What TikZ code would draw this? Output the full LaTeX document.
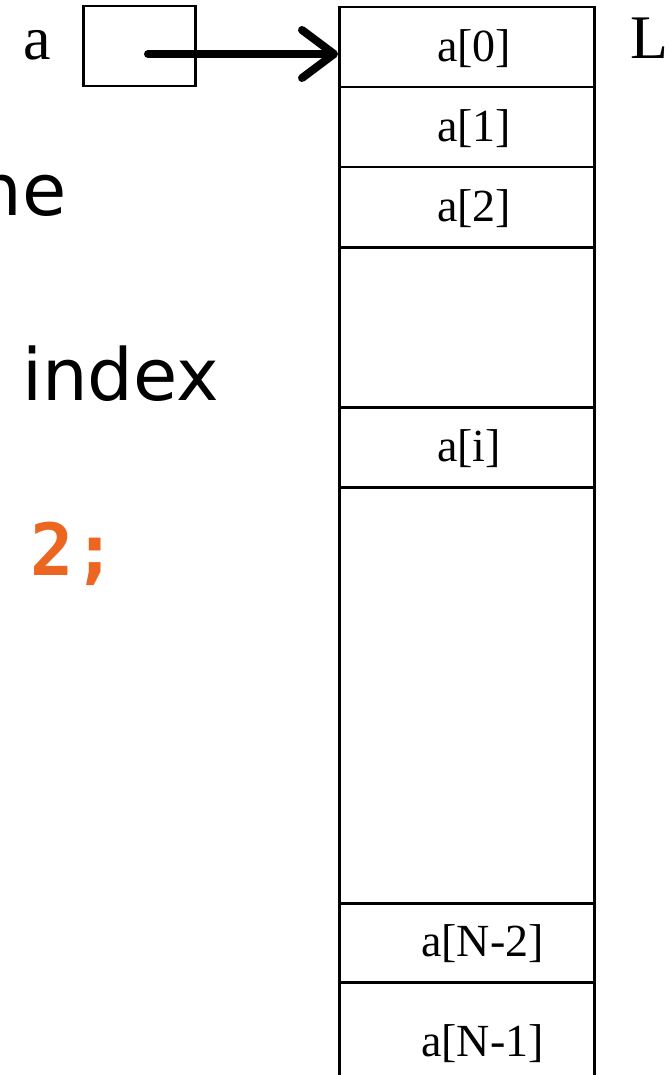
\documentclass[tikz,border=0pt]{standalone}
\usepackage{fontspec}
\setmainfont{Liberation Serif}
\newfontfamily\slidesans{DejaVu Sans}
\newfontfamily\slidemono{DejaVu Sans Mono}
\usetikzlibrary{arrows.meta}
\definecolor{codeorange}{RGB}{236,102,34}
\begin{document}
\begin{tikzpicture}[x=1pt,y=-1pt,
  cellbox/.style={draw,line width=2.5pt,minimum width=255pt,inner sep=0pt,anchor=north west},
  celltxt/.style={font=\fontsize{46}{50}\selectfont,inner sep=0pt,anchor=base west},
  bigserif/.style={font=\fontsize{62}{66}\selectfont,inner sep=0pt,anchor=base west},
  slidetxt/.style={font=\slidesans\fontsize{72}{80}\selectfont,inner sep=0pt},
  codetxt/.style={font=\slidemono\bfseries\fontsize{72}{80}\selectfont,text=codeorange,inner sep=0pt,anchor=base west},
  ptrarrow/.style={line width=8pt,line cap=round,-{Straight Barb[length=32pt,width=48pt,round]}}]
\useasboundingbox (0,0) rectangle (669,1075);
% memory column
\node[cellbox,minimum height=80pt] (c0) at (338,6) {};
\node[cellbox,minimum height=80pt] (c1) at (338,86) {};
\node[cellbox,minimum height=80pt] (c2) at (338,166) {};
\node[cellbox,minimum height=160pt] (cgap1) at (338,246) {};
\node[cellbox,minimum height=80pt] (ci) at (338,406) {};
\node[cellbox,minimum height=416pt] (cgap2) at (338,486) {};
\node[cellbox,minimum height=79pt] (cn2) at (338,902) {};
\node[cellbox,minimum height=130pt] (cn1) at (338,981) {};
% cell labels
\node[celltxt] (t0) at (437,62) {a[0]};
\node[celltxt] (t1) at (437,142) {a[1]};
\node[celltxt] (t2) at (437,222) {a[2]};
\node[celltxt] (ti) at (437,461) {a[i]};
\node[celltxt] (tn2) at (421,956) {a[N-2]};
\node[celltxt] (tn1) at (421,1056) {a[N-1]};
% pointer variable
\node[bigserif] (aname) at (23,60) {a};
\node[draw,line width=2.5pt,minimum width=112pt,minimum height=80pt,inner sep=0pt,anchor=north west] (ptr) at (82,5) {};
\coordinate (pstart) at (148,54);
\draw[ptrarrow] (pstart) -- (pstart -| c0.west);
\node[bigserif] (lbl) at (630,59) {L};
% slide text (cut off on the left)
\node[slidetxt,anchor=base east] (tne) at (67,215) {ne};
\node[slidetxt,anchor=base west] (tindex) at (22,400) {index};
\node[codetxt] (tcode) at (30,575) {2;};
\end{tikzpicture}
\end{document}
